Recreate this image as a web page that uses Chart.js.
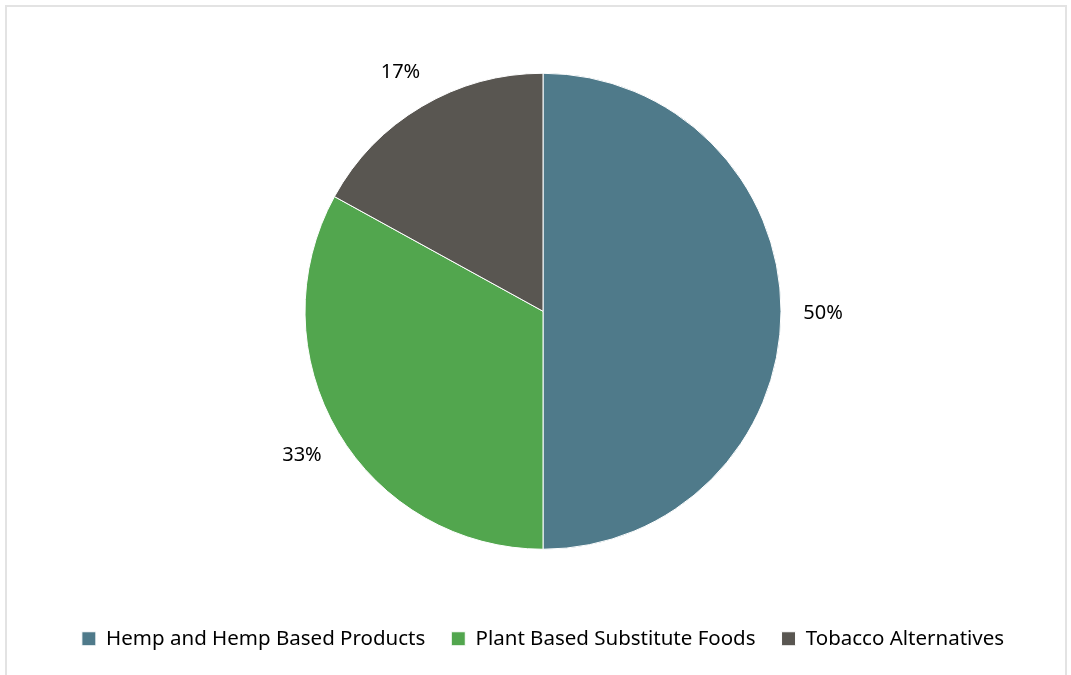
<!DOCTYPE html>
<html>
<head>
<meta charset="utf-8">
<script src="https://cdn.jsdelivr.net/npm/chart.js@4"></script>
<style>
  html, body { margin: 0; padding: 0; background: #fff; }
  #wrap { position: relative; width: 1071px; height: 675px; }
  #frame { position: absolute; left: 5px; top: 5px; width: 1058px; height: 680px; border: 2px solid #e3e3e3; }
  canvas { position: absolute; left: 0; top: 0; }
</style>
</head>
<body>
<div id="wrap">
  <div id="frame"></div>
  <canvas id="pie-chart" width="1071" height="675"></canvas>
</div>
<script>
var categories = ['Hemp and Hemp Based Products', 'Plant Based Substitute Foods', 'Tobacco Alternatives'];
var shares = [50, 33, 17];
var sliceColors = ['#4F7A8A', '#52A64E', '#595651'];

// percentage labels outside each slice
var outsideLabels = {
    id: 'outsideLabels',
    afterDatasetsDraw: function (chart) {
        var c = chart.ctx;
        var meta = chart.getDatasetMeta(0);
        c.save();
        c.font = '20px "Noto Sans"';
        c.fillStyle = '#000';
        c.textAlign = 'center';
        c.textBaseline = 'middle';
        meta.data.forEach(function (arc, i) {
            var mid = (arc.startAngle + arc.endAngle) / 2;
            var r = arc.outerRadius + 42;
            c.fillText(shares[i] + '%', arc.x + Math.cos(mid) * r, arc.y + Math.sin(mid) * r + 2);
        });
        c.restore();
    }
};

var ctx = document.getElementById('pie-chart').getContext('2d');
var myChart = new Chart(ctx, {
    type: 'pie',
    data: {
        labels: categories,
        datasets: [{
            data: shares,
            backgroundColor: sliceColors,
            borderColor: '#fff',
            borderWidth: 1,
            radius: 238
        }]
    },
    options: {
        responsive: false,
        animation: false,
        layout: { padding: { left: 15, right: 0, top: 20, bottom: 16 } },
        plugins: {
            tooltip: { enabled: false },
            legend: {
                display: true,
                position: 'bottom',
                labels: {
                    boxWidth: 14,
                    boxHeight: 14,
                    padding: 26,
                    color: '#000',
                    font: { family: 'Noto Sans', size: 20.5 }
                }
            }
        }
    },
    plugins: [outsideLabels]
});
</script>
</body>
</html>
